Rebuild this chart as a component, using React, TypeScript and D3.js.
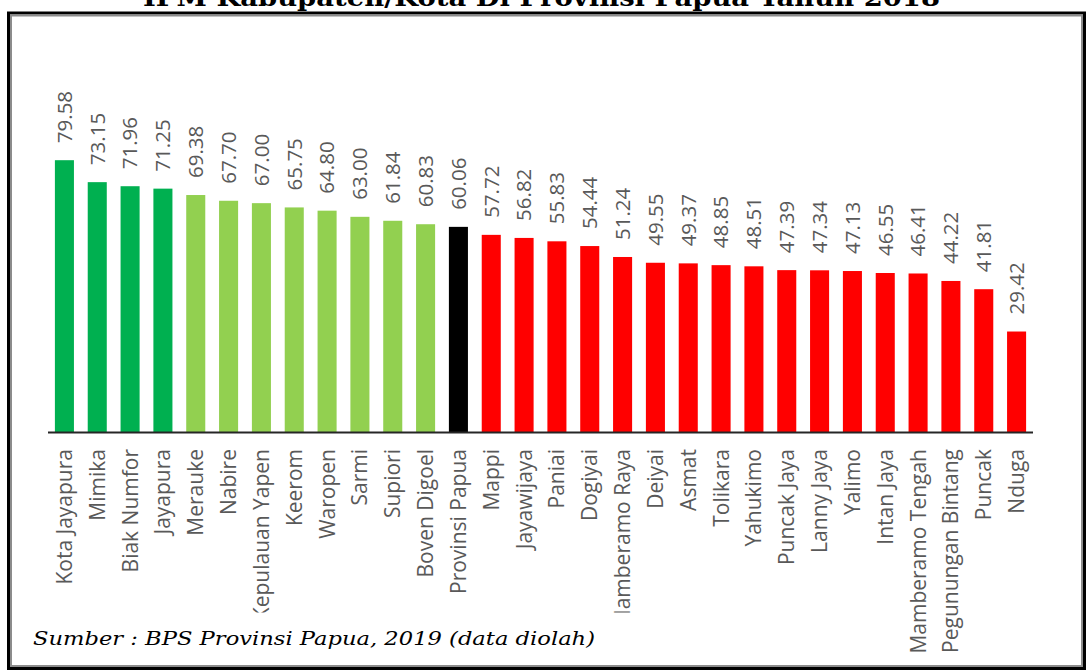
import React from "react";
import * as d3 from "d3";

const categories = [
  "Kota Jayapura", "Mimika", "Biak Numfor", "Jayapura", "Merauke", "Nabire",
  "Kepulauan Yapen", "Keerom", "Waropen", "Sarmi", "Supiori", "Boven Digoel",
  "Provinsi Papua", "Mappi", "Jayawijaya", "Paniai", "Dogiyai", "Mamberamo Raya",
  "Deiyai", "Asmat", "Tolikara", "Yahukimo", "Puncak Jaya", "Lanny Jaya",
  "Yalimo", "Intan Jaya", "Mamberamo Tengah", "Pegunungan Bintang", "Puncak", "Nduga",
];
const values = [
  79.58, 73.15, 71.96, 71.25, 69.38, 67.7, 67.0, 65.75, 64.8, 63.0, 61.84, 60.83,
  60.06, 57.72, 56.82, 55.83, 54.44, 51.24, 49.55, 49.37, 48.85, 48.51, 47.39, 47.34,
  47.13, 46.55, 46.41, 44.22, 41.81, 29.42,
];
const groups = [
  "high", "high", "high", "high", "mid", "mid", "mid", "mid", "mid", "mid", "mid", "mid",
  "prov", "low", "low", "low", "low", "low", "low", "low", "low", "low", "low", "low",
  "low", "low", "low", "low", "low", "low",
];
const groupColors: Record<string, string> = {
  high: "#00B050",
  mid: "#92D050",
  prov: "#000000",
  low: "#FF0000",
};
const yDomain = [0, 90];
const title = "IPM Kabupaten/Kota Di Provinsi Papua Tahun 2018";
const source = "Sumber : BPS Provinsi Papua, 2019 (data diolah)";

export default function App() {
  const W = 1086;
  const H = 670;
  const axisY = 432;
  const x = d3
    .scaleBand<string>()
    .domain(categories)
    .range([48, 1033])
    .paddingInner(0.42)
    .paddingOuter(0.21);
  const y = d3.scaleLinear().domain(yDomain).range([axisY, axisY - 307.4]);
  const fmt = d3.format(".2f");
  const textColor = "#595959";
  const sans = "'Open Sans', sans-serif";

  return (
    <svg
      width={W}
      height={H}
      style={{ position: "absolute", left: 0, top: 0, background: "#fff" }}
    >
      <defs>
        <clipPath id="labClip">
          <rect x={0} y={0} width={900} height={612.5} />
          <rect x={900} y={0} width={186} height={664} />
        </clipPath>
      </defs>
      <rect x={0} y={0} width={W} height={H} fill="#fff" />
      {/* frame */}
      <rect x={8.5} y={13} width={1076} height={655.5} fill="none" stroke="#000" strokeWidth={3} />
      <rect x={11} y={15.5} width={1071} height={650.5} fill="none" stroke="#8c8c8c" strokeWidth={2} />
      {/* title (cut off at the top edge, as in the reference) */}
      <text
        x={541.5}
        y={6}
        textAnchor="middle"
        fontFamily="'DejaVu Serif', serif"
        fontWeight="bold"
        fontSize={24}
        textLength={797}
        lengthAdjust="spacingAndGlyphs"
        fill="#000"
      >
        {title}
      </text>
      {/* bars */}
      {categories.map((c, i) => (
        <rect
          key={c}
          x={x(c)}
          y={y(values[i])}
          width={x.bandwidth()}
          height={axisY - y(values[i])}
          fill={groupColors[groups[i]]}
        />
      ))}
      {/* axis line */}
      <line x1={48} x2={1033} y1={axisY + 0.5} y2={axisY + 0.5} stroke="#262626" strokeWidth={2} />
      {/* value labels */}
      {categories.map((c, i) => {
        const cx = (x(c) as number) + x.bandwidth() / 2;
        return (
          <text
            key={"v" + c}
            transform={`translate(${cx},${y(values[i]) - 17}) rotate(-90)`}
            dy="0.36em"
            fontFamily={sans}
            fontSize={20.5}
            fill={textColor}
          >
            {fmt(values[i])}
          </text>
        );
      })}
      {/* category labels */}
      <g clipPath="url(#labClip)">
        {categories.map((c) => {
          const cx = (x(c) as number) + x.bandwidth() / 2;
          return (
            <text
              key={"c" + c}
              transform={`translate(${cx},449) rotate(-90)`}
              textAnchor="end"
              dy="0.36em"
              fontFamily={sans}
              fontSize={21}
              fill={textColor}
            >
              {c}
            </text>
          );
        })}
      </g>
      {/* source */}
      <text
        x={33}
        y={645}
        fontFamily="'DejaVu Serif', serif"
        fontStyle="italic"
        fontSize={18}
        textLength={562}
        lengthAdjust="spacingAndGlyphs"
        fill="#000"
      >
        {source}
      </text>
    </svg>
  );
}
